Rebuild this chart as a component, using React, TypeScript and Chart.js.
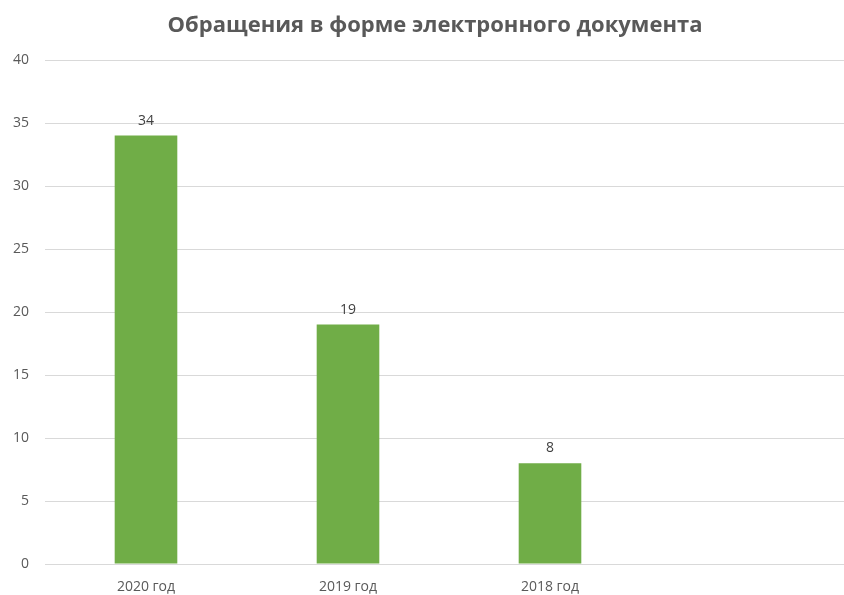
import React, { useEffect, useRef } from "react";
import { Chart, registerables } from "chart.js";

Chart.register(...registerables);

const categories = ["2020 год", "2019 год", "2018 год", ""];
const values = [34, 19, 8, null];
const yTicks = [0, 5, 10, 15, 20, 25, 30, 35, 40];
const titleText = "Обращения в форме электронного документа";

const FONT = "'Open Sans', sans-serif";

const valueLabels = {
  id: "valueLabels",
  afterDatasetsDraw(chart: any) {
    const ctx = chart.ctx;
    const meta = chart.getDatasetMeta(0);
    ctx.save();
    ctx.fillStyle = "#404040";
    ctx.font = `14px ${FONT}`;
    ctx.textAlign = "center";
    ctx.textBaseline = "alphabetic";
    meta.data.forEach((bar: any, i: number) => {
      const v = values[i];
      if (v === null || v === undefined) return;
      ctx.fillText(String(v), bar.x, bar.y - 11);
    });
    ctx.restore();
  },
};

const chartTitle = {
  id: "chartTitle",
  afterDraw(chart: any) {
    const ctx = chart.ctx;
    ctx.save();
    ctx.fillStyle = "#595959";
    ctx.font = `bold 22px ${FONT}`;
    ctx.textAlign = "center";
    ctx.textBaseline = "alphabetic";
    const cx = (chart.chartArea.left + chart.chartArea.right) / 2 - 14;
    ctx.fillText(titleText, cx, 32);
    ctx.restore();
  },
};

export default function App() {
  const ref = useRef<HTMLCanvasElement>(null);
  useEffect(() => {
    document.body.style.margin = "0";
    const chart = new Chart(ref.current!, {
      type: "bar",
      data: {
        labels: categories,
        datasets: [
          {
            data: values,
            backgroundColor: "#70ad47",
            barPercentage: 1,
            categoryPercentage: 0.31,
          },
        ],
      },
      options: {
        animation: false,
        responsive: false,
        layout: { padding: { left: 0, right: 0, top: 60, bottom: 0 } },
        plugins: {
          legend: { display: false },
          tooltip: { enabled: false },
          title: { display: false },
        },
        scales: {
          x: {
            grid: { display: false, drawTicks: false },
            border: { color: "#d9d9d9" },
            afterFit(axis: any) {
              axis.height = 31;
            },
            ticks: {
              color: "#595959",
              font: { family: FONT, size: 14 },
              padding: 15,
              maxRotation: 0,
            },
          },
          y: {
            min: 0,
            max: 40,
            afterBuildTicks(axis: any) {
              axis.ticks = yTicks.map((v) => ({ value: v }));
            },
            afterFit(axis: any) {
              axis.width = 45;
            },
            grid: { color: "#d9d9d9", drawTicks: false },
            border: { display: false },
            ticks: {
              color: "#595959",
              font: { family: FONT, size: 14 },
              padding: 16,
            },
          },
        },
      },
      plugins: [valueLabels, chartTitle],
    });
    return () => chart.destroy();
  }, []);
  return (
    <div style={{ width: 844, height: 595, overflow: "hidden", position: "relative", background: "#fff" }}>
      <canvas ref={ref} width={853} height={595} style={{ display: "block" }} />
    </div>
  );
}
